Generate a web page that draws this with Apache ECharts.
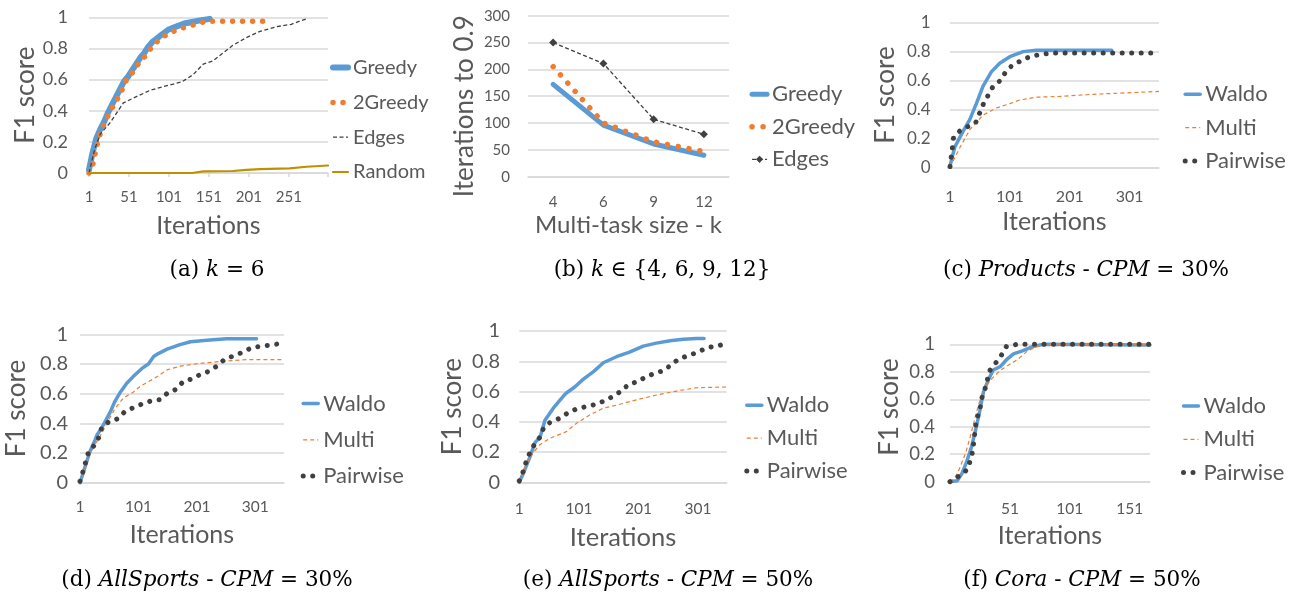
<!DOCTYPE html>
<html>
<head>
<meta charset="utf-8">
<script src="https://cdn.jsdelivr.net/npm/echarts@6/dist/echarts.min.js"></script>
<style>
  html, body { margin: 0; padding: 0; background: #fff; }
  #main { width: 1291px; height: 594px; }
</style>
</head>
<body>
<div id="main"></div>
<script>
// (a) k = 6 : F1 score per iteration, [iteration, F1]
var aGreedy = [[1,0.02],[5,0.12],[10,0.22],[15,0.28],[20,0.33],[25,0.39],[30,0.44],[35,0.49],[40,0.54],[45,0.59],[50,0.62],[55,0.66],[60,0.70],[65,0.74],[70,0.77],[75,0.81],[80,0.84],[90,0.88],[100,0.92],[110,0.94],[120,0.96],[130,0.97],[140,0.98],[152,0.99]];
var aGreedy2 = [[1,0],[6,0.06],[12,0.2],[16,0.27],[22,0.34],[28,0.40],[36,0.47],[42,0.53],[47,0.59],[56,0.65],[64,0.71],[73,0.76],[81,0.82],[92,0.87],[104,0.905],[117,0.93],[131,0.95],[144,0.97],[158,0.975],[229,0.975]];
var aEdges = [[1,0],[8,0.15],[15,0.25],[27,0.32],[44,0.45],[56,0.48],[77,0.53],[94,0.555],[117,0.585],[131,0.63],[144,0.70],[156,0.72],[181,0.82],[198,0.87],[215,0.91],[236,0.94],[254,0.955],[267,0.98],[273,0.99]];
var aRandom = [[1,0],[130,0],[144,0.01],[181,0.013],[198,0.02],[215,0.025],[252,0.03],[273,0.04],[300,0.048]];
var aTicks = [1, 51, 101, 151, 201, 251];

// (b) iterations to reach 0.9 per multi-task size k
var bSizes = ['4', '6', '9', '12'];
var bGreedy = [172, 96, 61, 40];
var bGreedy2 = [205, 100, 65, 47];
var bEdges = [250, 211, 107, 79];

// (c) Products, CPM = 30%
var cWaldo = [[1,0.01],[9,0.14],[23,0.25],[34,0.33],[45,0.44],[56,0.56],[70,0.66],[84,0.72],[101,0.765],[123,0.80],[145,0.81],[271,0.81]];
var cMulti = [[1,0],[18,0.14],[34,0.26],[56,0.36],[78,0.41],[101,0.44],[117,0.465],[145,0.485],[184,0.49],[240,0.505],[296,0.515],[350,0.525]];
var cPairwise = [[1,0.005],[5,0.135],[7,0.21],[17,0.25],[30,0.28],[44,0.31],[50,0.37],[57,0.44],[65,0.50],[73,0.56],[85,0.60],[94,0.66],[106,0.71],[119,0.735],[134,0.765],[151,0.78],[170,0.79],[340,0.79]];

// (d) AllSports, CPM = 30%
var dWaldo = [[1,0],[10,0.11],[18,0.21],[27,0.29],[30,0.32],[41,0.39],[52,0.47],[61,0.55],[70,0.61],[81,0.67],[92,0.715],[107,0.77],[118,0.80],[127,0.85],[135,0.87],[150,0.90],[172,0.93],[190,0.95],[218,0.96],[252,0.97],[303,0.97]];
var dMulti = [[1,0],[10,0.1],[18,0.19],[27,0.26],[35,0.31],[47,0.40],[61,0.50],[75,0.57],[92,0.61],[104,0.65],[127,0.70],[150,0.76],[172,0.785],[207,0.805],[252,0.82],[287,0.83],[350,0.83]];
var dPairwise = [[1,0.01],[5,0.06],[10,0.13],[15,0.2],[25,0.25],[34,0.31],[38,0.37],[50,0.41],[65,0.43],[78,0.48],[92,0.505],[107,0.53],[122,0.55],[138,0.56],[151,0.605],[166,0.63],[177,0.68],[193,0.70],[207,0.73],[221,0.75],[235,0.785],[248,0.83],[264,0.855],[280,0.88],[295,0.91],[312,0.92],[330,0.93],[350,0.94]];

// (e) AllSports, CPM = 50%
var eWaldo = [[1,0],[10,0.08],[19,0.17],[27,0.26],[36,0.30],[44,0.41],[58,0.49],[75,0.57],[80,0.59],[94,0.63],[108,0.68],[125,0.73],[142,0.79],[164,0.83],[186,0.86],[209,0.90],[231,0.92],[254,0.936],[276,0.945],[298,0.95],[311,0.95]];
var eMulti = [[1,0],[13,0.125],[25,0.20],[36,0.25],[52,0.29],[80,0.335],[97,0.39],[119,0.445],[142,0.49],[164,0.51],[198,0.545],[231,0.577],[265,0.603],[298,0.625],[349,0.63]];
var ePairwise = [[1,0.01],[7,0.066],[12,0.13],[18,0.19],[26,0.247],[36,0.30],[42,0.363],[54,0.40],[69,0.423],[83,0.46],[97,0.485],[113,0.50],[129,0.515],[145,0.54],[159,0.57],[173,0.605],[185,0.65],[200,0.665],[214,0.70],[229,0.72],[245,0.742],[258,0.786],[271,0.82],[287,0.84],[302,0.863],[316,0.89],[332,0.90],[349,0.918]];
var wideTicks = [1, 101, 201, 301];

// (f) Cora, CPM = 50%
var fWaldo = [[1,0],[7,0.007],[11,0.06],[15,0.146],[19,0.255],[23,0.40],[26,0.52],[29,0.655],[33,0.74],[37,0.813],[43,0.837],[48,0.886],[54,0.93],[62,0.954],[70,0.983],[79,1.0],[168,0.995]];
var fMulti = [[1,0],[5,0.025],[9,0.097],[14,0.206],[18,0.33],[22,0.47],[26,0.595],[30,0.69],[36,0.75],[43,0.81],[50,0.85],[57,0.886],[65,0.947],[73,0.983],[82,1.0],[168,1.0]];
var fPairwise = [[1,0],[9,0.044],[15,0.085],[18,0.153],[20,0.226],[21,0.30],[22,0.376],[23,0.45],[26,0.522],[27,0.595],[30,0.667],[32,0.735],[34,0.806],[39,0.862],[44,0.922],[48,0.983],[57,1.0],[168,1.0]];
var fTicks = [1, 51, 101, 151];

var BLUE = '#5B9BD5', ORANGE = '#ED7D31', DARK = '#404040', GOLD = '#BF9000';
var TEXT = '#595959', GRIDC = '#D9D9D9', FONT = 'Lato';

function solid(c, w) { return { color: c, width: w, cap: 'round', join: 'round' }; }
function dotted(c, w, gap) { return { color: c, width: w, type: [0.01, gap], cap: 'round', join: 'round' }; }
function dashed(c, w, dash) { return { color: c, width: w, type: dash }; }

var panels = [
  { id: 'a', box: [89, 17.3, 239, 155.7],
    x: { min: 1, max: 300, step: 50, ticks: aTicks, size: 15, gap: 16.5, name: 'Iterations', nameSize: 25, nameGap: 40, outTicks: true },
    y: { max: 1, step: 0.2, size: 18, gap: 21, name: 'F1 score', nameGap: 50, pad: [0, 0, 0, 0] },
    legend: { x: 350, mid: 67.6, step: 34.8, size: 20 },
    series: [
      { name: 'Greedy', data: aGreedy, line: solid(BLUE, 6) },
      { name: '2Greedy', data: aGreedy2, line: dotted(ORANGE, 5.5, 10) },
      { name: 'Edges', data: aEdges, line: dashed(DARK, 1.3, [4, 2.5]) },
      { name: 'Random', data: aRandom, line: solid(GOLD, 2.2) }
    ] },
  { id: 'b', box: [528, 15.7, 201, 161],
    x: { cats: bSizes, size: 15, gap: 17.5, name: 'Multi-task size - k', nameSize: 24, nameGap: 37 },
    y: { max: 300, step: 50, size: 15, gap: 18, name: 'Iterations to 0.9', nameGap: 50, pad: [0, 20, 0, 0] },
    legend: { x: 769.3, mid: 94.3, step: 32.5, size: 22 },
    series: [
      { name: 'Greedy', data: bGreedy, line: solid(BLUE, 5) },
      { name: '2Greedy', data: bGreedy2, line: dotted(ORANGE, 5.5, 11) },
      { name: 'Edges', data: bEdges, line: dashed(DARK, 1.3, [4, 2.5]), symbol: 'diamond', symbolSize: 8 }
    ] },
  { id: 'c', box: [950, 22.7, 209, 144.6],
    x: { min: 1, max: 350, step: 100, ticks: wideTicks, size: 16, gap: 22, name: 'Iterations', nameSize: 25, nameGap: 42 },
    y: { max: 1, step: 0.2, size: 17, gap: 19.3, name: 'F1 score', nameGap: 51, pad: [0, 0, 0, 0] },
    legend: { x: 1202.7, mid: 94.3, step: 33.3, size: 22 },
    series: [
      { name: 'Waldo', data: cWaldo, line: solid(BLUE, 3.5) },
      { name: 'Multi', data: cMulti, line: dashed(ORANGE, 1.2, [4, 3]) },
      { name: 'Pairwise', data: cPairwise, line: dotted(DARK, 5, 9.5) }
    ] },
  { id: 'd', box: [80, 334.3, 204, 148.4],
    x: { min: 1, max: 350, step: 100, ticks: wideTicks, size: 15.5, gap: 16.7, name: 'Iterations', nameSize: 25, nameGap: 40 },
    y: { max: 1, step: 0.2, size: 20, gap: 12, name: 'F1 score', nameGap: 50, pad: [0, 0, 0, 0] },
    legend: { x: 320.7, mid: 403.6, step: 36.2, size: 22 },
    series: [
      { name: 'Waldo', data: dWaldo, line: solid(BLUE, 3.5) },
      { name: 'Multi', data: dMulti, line: dashed(ORANGE, 1.2, [4, 3]) },
      { name: 'Pairwise', data: dPairwise, line: dotted(DARK, 5, 9.5) }
    ] },
  { id: 'e', box: [519.3, 331, 207.4, 151.3],
    x: { min: 1, max: 349, step: 100, ticks: wideTicks, size: 15.5, gap: 19, name: 'Iterations', nameSize: 25.5, nameGap: 42 },
    y: { max: 1, step: 0.2, size: 20, gap: 19.3, name: 'F1 score', nameGap: 54, pad: [0, 0, 0, 0] },
    legend: { x: 764.3, mid: 405.3, step: 32.8, size: 22 },
    series: [
      { name: 'Waldo', data: eWaldo, line: solid(BLUE, 3.5) },
      { name: 'Multi', data: eMulti, line: dashed(ORANGE, 1.2, [4, 3]) },
      { name: 'Pairwise', data: ePairwise, line: dotted(DARK, 5, 9.5) }
    ] },
  { id: 'f', box: [950, 344.3, 200, 137.4],
    x: { min: 1, max: 168, step: 50, ticks: fTicks, size: 15.5, gap: 19.7, name: 'Iterations', nameSize: 25, nameGap: 42 },
    y: { max: 1, step: 0.2, size: 18.5, gap: 15, name: 'F1 score', nameGap: 47, pad: [0, 0, 0, 12] },
    legend: { x: 1201, mid: 406, step: 33.3, size: 22 },
    series: [
      { name: 'Waldo', data: fWaldo, line: solid(BLUE, 3.5) },
      { name: 'Multi', data: fMulti, line: dashed(ORANGE, 1.2, [4, 3]) },
      { name: 'Pairwise', data: fPairwise, line: dotted(DARK, 5, 9.5) }
    ] }
];

var captions = [
  ['(a) {i|k} = 6', 217, 270],
  ['(b) {i|k} \u2208 {4, 6, 9, 12}', 662, 270],
  ['(c) {i|Products} - {i|CPM} = 30%', 1086, 270],
  ['(d) {i|AllSports} - {i|CPM} = 30%', 207, 580],
  ['(e) {i|AllSports} - {i|CPM} = 50%', 668, 580],
  ['(f) {i|Cora} - {i|CPM} = 50%', 1082, 580]
];

var option = { animation: false, grid: [], xAxis: [], yAxis: [], legend: [], series: [], graphic: [] };

panels.forEach(function (p, i) {
  option.grid.push({ left: p.box[0], top: p.box[1], width: p.box[2], height: p.box[3], outerBoundsMode: 'none' });

  var xa = {
    gridIndex: i,
    name: p.x.name, nameLocation: 'middle', nameGap: p.x.nameGap,
    nameTextStyle: { fontFamily: FONT, fontSize: p.x.nameSize, color: TEXT },
    axisLine: { lineStyle: { color: GRIDC, width: 1.5 } },
    axisTick: { show: !!p.x.outTicks, length: 4, lineStyle: { color: GRIDC, width: 1.5 } },
    axisLabel: { margin: p.x.gap, fontFamily: FONT, fontSize: p.x.size, color: TEXT },
    splitLine: { show: false }
  };
  if (p.x.cats) {
    xa.type = 'category';
    xa.data = p.x.cats;
    xa.boundaryGap = true;
    xa.axisLabel.interval = 0;
  } else {
    var ticks = p.x.ticks;
    xa.type = 'value';
    xa.min = p.x.min;
    xa.max = p.x.max;
    xa.interval = p.x.step;
    xa.axisLabel.formatter = function (v) { return ticks.indexOf(v) >= 0 ? String(v) : ''; };
  }
  option.xAxis.push(xa);

  option.yAxis.push({
    gridIndex: i, type: 'value', min: 0, max: p.y.max, interval: p.y.step,
    name: p.y.name, nameLocation: 'middle', nameGap: p.y.nameGap,
    nameTextStyle: { fontFamily: FONT, fontSize: 26, color: TEXT, padding: p.y.pad },
    axisLine: { show: false }, axisTick: { show: false },
    axisLabel: { margin: p.y.gap, fontFamily: FONT, fontSize: p.y.size, color: TEXT },
    splitLine: { lineStyle: { color: GRIDC, width: 1.5 } }
  });

  var items = [];
  p.series.forEach(function (s) {
    var full = s.name + '#' + p.id;
    // legend shows only the line, plus the marker where the series has one
    items.push({
      name: full,
      itemStyle: s.symbol ? { color: s.line.color } : { color: 'transparent', borderWidth: 0 }
    });
    option.series.push({
      type: 'line', name: full, xAxisIndex: i, yAxisIndex: i, data: s.data,
      color: s.line.color, lineStyle: s.line, itemStyle: { color: s.line.color },
      symbol: s.symbol || 'none', symbolSize: s.symbolSize || 0, showSymbol: !!s.symbol,
      clip: false, silent: true, emphasis: { disabled: true }
    });
  });

  var lh = p.legend.size + 2;
  option.legend.push({
    orient: 'vertical', left: p.legend.x - 20, top: p.legend.mid - lh / 2,
    itemGap: p.legend.step - lh, itemWidth: 15, itemHeight: 9, padding: 0,
    selectedMode: false, data: items,
    formatter: function (n) { return n.split('#')[0]; },
    textStyle: { fontFamily: FONT, fontSize: p.legend.size, color: TEXT, lineHeight: lh },
    lineStyle: { width: 'inherit' }
  });
});

captions.forEach(function (c) {
  option.graphic.push({
    type: 'text', x: c[1], y: c[2], silent: true,
    style: {
      text: c[0], fontFamily: 'DejaVu Serif', fontSize: 21.5, fill: '#000',
      align: 'center', verticalAlign: 'middle',
      rich: { i: { fontFamily: 'DejaVu Serif', fontStyle: 'italic', fontSize: 21.5, fill: '#000' } }
    }
  });
});

var chartDom = document.getElementById('main');
var myChart = echarts.init(chartDom);
option && myChart.setOption(option);
</script>
</body>
</html>
